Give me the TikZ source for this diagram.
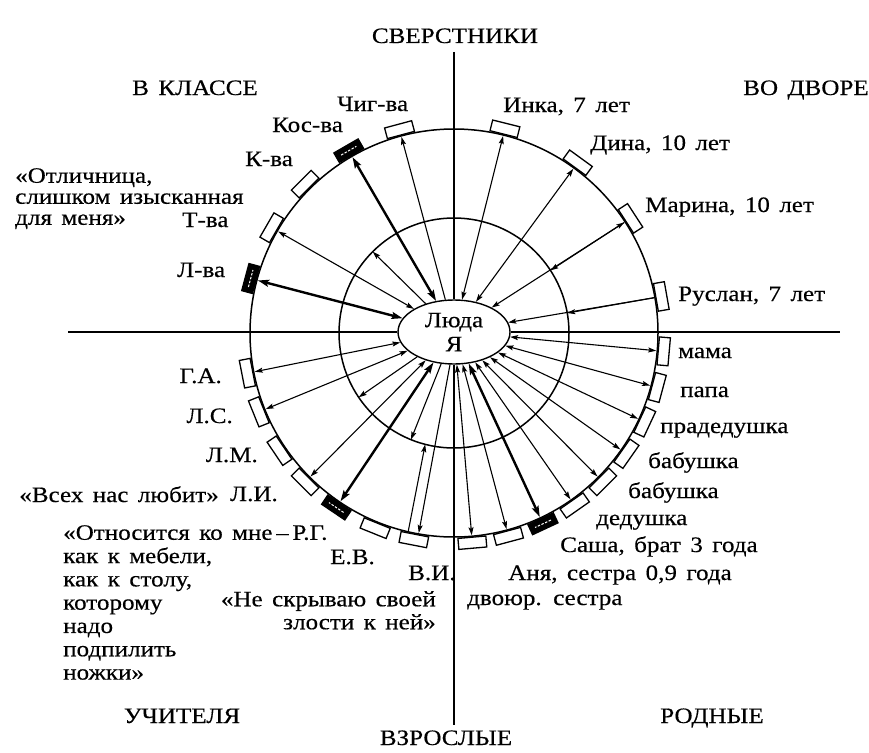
\documentclass[tikz,border=0pt]{standalone}
\usepackage{fontspec}
\setmainfont{Liberation Serif}[FakeStretch=1.14, WordSpace=1.5, FakeBold=0.4]
\usetikzlibrary{arrows.meta,shapes.geometric,calc}
\newcommand\lblsize{\fontsize{22}{23}\selectfont}
\tikzset{
  hd/.tip={Stealth[length=8pt,width=5pt,inset=1.5pt]},
  hdk/.tip={Stealth[length=11pt,width=7pt,inset=2pt]},
  ring/.style={line width=1.5pt},
  axisline/.style={line width=1.3pt},
  tie/.style={line width=1.1pt},
  tiethick/.style={line width=2.4pt},
  lbl/.style={font=\lblsize, inner sep=0pt, text height=14pt, text depth=4pt},
  slot/.style={draw, line width=1.3pt, fill=white, minimum width=28pt, minimum height=11pt, inner sep=0pt},
  slotdark/.style={slot, fill=black},
}
\begin{document}
\begin{tikzpicture}[x=1pt,y=-1pt]
\useasboundingbox[fill=white] (0,0) rectangle (869,752);
\coordinate (c) at (454,333);
% rings
\draw[ring] (c) circle[radius=204];
\draw[ring] (c) circle[radius=115];
% centre
\node[draw, ellipse, line width=1.4pt, minimum width=112pt, minimum height=64pt,
      inner sep=0pt, align=center, font=\fontsize{22}{24}\selectfont, fill=white] (ya) at (454,332) {Люда\\Я};
% axes
\coordinate (axl) at (68,332);
\coordinate (axr) at (840,332);
\coordinate (axt) at (454,52);
\coordinate (axb) at (454,725);
\draw[axisline] (axl) -- (ya.west);
\draw[axisline] (ya.east) -- (axr);
\draw[axisline] (axt) -- (ya.north);
\draw[axisline] (ya.south) -- (axb);
% slots and end points
\foreach \a/\s [count=\i] in {105/slot,120/slotdark,135/slot,150/slot,165/slotdark,
  76/slot,54/slot,33/slot,10/slot,
  -5/slot,-15/slot,-25/slot,-35/slot,-45/slot,-55/slot,-65/slotdark,-75/slot,-85/slot,
  191/slot,202/slot,214/slot,225/slot,236/slotdark,248/slot,259/slot}{
  \pgfmathsetmacro\r{\a-90}
  \coordinate (o\i) at ($(c)+({-(\a)}:203)$);
  \coordinate (i\i) at ($(c)+({-(\a)}:115)$);
  \node[\s, rotate=\r] (b\i) at ($(c)+({-(\a)}:210.5)$) {};
}
\foreach \n in {2,5,16,23}{
  \draw[white, line width=1pt, dash pattern=on 2.5pt off 1.5pt]
    ($(b\n.west)!0.2!(b\n.east)$) -- ($(b\n.west)!0.8!(b\n.east)$);
}
% peers in class
\draw[tie,-hd] (ya.105) -- (o1);
\draw[tiethick,hdk-hdk] (ya.120) -- (o2);
\draw[tie,-hd] (ya.135) -- (i3);
\draw[tie,hd-hd] (ya.150) -- (o4);
\draw[tiethick,hdk-hdk] (ya.165) -- (o5);
% peers in yard
\draw[tie,hd-hd] (ya.76) -- (o6);
\draw[tie,hd-hd] (ya.54) -- (o7);
\draw[tie,hd-hd] (ya.33) -- (o8);
\draw[tie,-hd] (o8) -- (i8);
\draw[tie,-hd] (o9) -- (ya.10);
\draw[tie,-hd] (o9) -- (i9);
% relatives
\foreach \a/\i in {355/10,345/11,335/12,325/13,315/14,305/15,285/17,275/18}{
  \draw[tie,hd-hd] (ya.\a) -- (o\i);
}
\draw[tiethick,hdk-hdk] (ya.295) -- (o16);
% teachers
\draw[tie,hd-hd] (ya.191) -- (o19);
\draw[tie,hd-hd] (ya.202) -- (o20);
\draw[tie,-hd] (ya.214) -- (i21);
\draw[tie,hd-hd] (ya.225) -- (o22);
\draw[tiethick,hdk-hdk] (ya.236) -- (o23);
\draw[tie,-hd] (ya.248) -- (i24);
\coordinate (va) at ($(c)+(-260:203)$);
\coordinate (vb) at ($(c)+(-257:203)$);
\coordinate (vc) at ($(c)+(-255.5:115)$);
\draw[tie,-hd] (ya.263) -- (va);
\draw[tie,-hd] (vb) -- (vc);
% headings
\node[lbl] (h1) at (455,38) {СВЕРСТНИКИ};
\node[lbl] (h2) at (195,90) {В КЛАССЕ};
\node[lbl] (h3) at (806,90) {ВО ДВОРЕ};
\node[lbl] (h4) at (182,718) {УЧИТЕЛЯ};
\node[lbl] (h5) at (712,718) {РОДНЫЕ};
\node[lbl] (h6) at (446,740) {ВЗРОСЛЫЕ};
% class labels
\node[lbl,anchor=west] (t1) at (337,106) {Чиг-ва};
\node[lbl,anchor=west] (t2) at (272,127) {Кос-ва};
\node[lbl,anchor=west] (t3) at (245,161) {К-ва};
\node[lbl,anchor=west] (t4) at (182,222) {Т-ва};
\node[lbl,anchor=west] (t5) at (177,272) {Л-ва};
\node[font=\fontsize{22}{21}\selectfont, inner sep=0pt, align=left, anchor=north west] (q1) at (15,168)
  {«Отличница,\\слишком изысканная\\для меня»};
% yard labels
\node[lbl,anchor=west] (t6) at (503,107) {Инка, 7 лет};
\node[lbl,anchor=west] (t7) at (590,145) {Дина, 10 лет};
\node[lbl,anchor=west] (t8) at (645,207) {Марина, 10 лет};
\node[lbl,anchor=west] (t9) at (678,296) {Руслан, 7 лет};
% relatives labels
\node[lbl,anchor=west] (t10) at (678,353) {мама};
\node[lbl,anchor=west] (t11) at (680,392) {папа};
\node[lbl,anchor=west] (t12) at (660,428) {прадедушка};
\node[lbl,anchor=west] (t13) at (648,463) {бабушка};
\node[lbl,anchor=west] (t14) at (628,493) {бабушка};
\node[lbl,anchor=west] (t15) at (596,520) {дедушка};
\node[lbl,anchor=west] (t16) at (560,547) {Саша, брат 3 года};
\node[lbl,anchor=west] (t17) at (508,575) {Аня, сестра 0,9 года};
\node[lbl,anchor=west] (t18) at (467,600) {двоюр. сестра};
% teachers labels
\node[lbl,anchor=east] (t19) at (222,378) {Г.А.};
\node[lbl,anchor=east] (t20) at (233,418) {Л.С.};
\node[lbl,anchor=east] (t21) at (258,457) {Л.М.};
\node[lbl,anchor=east] (t22) at (278,496) {Л.И.};
\node[lbl,anchor=east] (q2) at (219,497) {«Всех нас любит»};
\node[font=\fontsize{22}{23.3}\selectfont, inner sep=0pt, align=left, anchor=north west] (q3) at (63,525)
  {«Относится ко мне\,–\,Р.Г.\\как к мебели,\\как к столу,\\которому\\надо\\подпилить\\ножки»};
\node[lbl,anchor=west] (t24) at (330,559) {Е.В.};
\node[lbl,anchor=west] (t25) at (408,575) {В.И.};
\node[font=\fontsize{22}{23}\selectfont, inner sep=0pt, align=right, anchor=north east] (q4) at (436,591)
  {«Не скрываю своей\\злости к ней»};
\end{tikzpicture}
\end{document}
